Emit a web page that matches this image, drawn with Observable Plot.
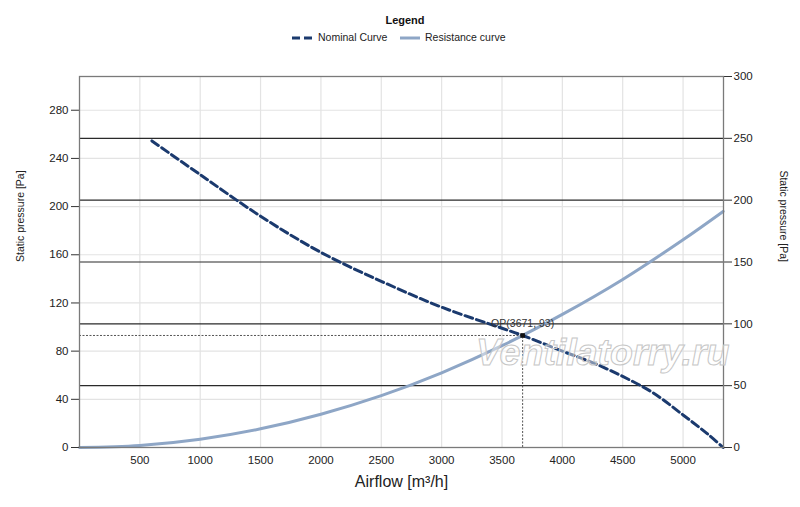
<!DOCTYPE html>
<html>
<head>
<meta charset="utf-8">
<script src="https://cdn.jsdelivr.net/npm/d3@7"></script>
<script src="https://cdn.jsdelivr.net/npm/@observablehq/plot@0.6"></script>
<style>
  html, body { margin: 0; padding: 0; background: #fff; }
  #wrap { position: relative; width: 800px; height: 507px; overflow: hidden; font-family: "Liberation Sans", Arial, sans-serif; }
  #legend { position: relative; width: 800px; height: 50px; }
  #legend .title { position: absolute; left: 0; width: 810px; top: 14px; text-align: center; font-weight: bold; font-size: 11px; color: #111; }
  #legend .item { position: absolute; top: 31px; font-size: 10.5px; color: #222; white-space: nowrap; }
  #legend svg { vertical-align: middle; margin-right: 5px; }
  #chart { position: absolute; left: 0; top: 50px; }
  #wm { position: absolute; left: 476px; top: 338px; font-size: 37.5px; line-height: 28px; font-style: italic; font-weight: bold;
        color: rgba(255,255,255,0.45); -webkit-text-stroke: 1px #c6c6c6; white-space: nowrap; pointer-events: none; }
</style>
</head>
<body>
<div id="wrap">
  <div id="legend">
    <div class="title">Legend</div>
    <div class="item" style="left:292px"><svg width="21" height="6"><line x1="0" y1="3" x2="21" y2="3" stroke="#1b3a6e" stroke-width="3" stroke-dasharray="8,4"/></svg>Nominal Curve</div>
    <div class="item" style="left:400px"><svg width="20" height="6"><line x1="0" y1="3" x2="20" y2="3" stroke="#8ea6c6" stroke-width="3"/></svg>Resistance curve</div>
  </div>
  <div id="chart"></div>
  <div id="wm">Ventilatorry.ru</div>
</div>
<script>
// ---- data ----
const xTicks = [500, 1000, 1500, 2000, 2500, 3000, 3500, 4000, 4500, 5000];
const leftTicks = [0, 40, 80, 120, 160, 200, 240, 280];
const rightTicks = [0, 50, 100, 150, 200, 250, 300];
const xDomain = [0, 5335];
const leftMax = 308;
const rightMax = 300;

const nominalFlow = [600, 1000, 1500, 2000, 2500, 3000, 3500, 3671, 4000, 4250, 4500, 4750, 5000, 5200, 5332];
const nominalPressure = [254.5, 226.5, 192, 162, 138, 116.5, 99, 93, 80, 70.5, 59, 45.5, 27, 11.5, 0];

const resistanceFlow = [0, 500, 1000, 1500, 2000, 2500, 3000, 3500, 4000, 4500, 5000, 5332];
const resistancePressure = [0, 1.7, 6.9, 15.5, 27.6, 43, 62, 84.5, 110.5, 139.5, 172.5, 196];

const opFlow = 3671;
const opPressure = 93;
const opLabel = "OP(3671, 93)";

const xLabel = "Airflow [m³/h]";
const yLabel = "Static pressure [Pa]";

// ---- build ----
const k = leftMax / rightMax;
const nominal = nominalFlow.map((x, i) => ({x, y: nominalPressure[i]}));
const resistance = resistanceFlow.map((x, i) => ({x, y: resistancePressure[i]}));
const op = [{x: opFlow, y: opPressure, label: opLabel}];

const chart = Plot.plot({
  width: 800,
  height: 457,
  marginTop: 26,
  marginBottom: 60,
  marginLeft: 79,
  marginRight: 77,
  x: {domain: xDomain},
  y: {domain: [0, leftMax]},
  style: {fontFamily: "'Liberation Sans', Arial, sans-serif", fontSize: "11.5px", color: "#222", background: "white", overflow: "visible"},
  marks: [
    Plot.ruleX(xTicks, {stroke: "#e3e3e3", strokeWidth: 1.2}),
    Plot.ruleY(leftTicks.filter(d => d > 0), {stroke: "#e3e3e3", strokeWidth: 1.2}),
    Plot.ruleY(rightTicks.filter(d => d > 0 && d < rightMax), {y: d => d * k, stroke: "#2a2a2a", strokeWidth: 1.1}),
    Plot.ruleY(op, {y: "y", x1: xDomain[0], x2: "x", stroke: "#555", strokeDasharray: "2,1.5", strokeWidth: 1}),
    Plot.ruleX(op, {x: "x", y1: 0, y2: "y", stroke: "#555", strokeDasharray: "2,1.5", strokeWidth: 1}),
    Plot.line(resistance, {x: "x", y: "y", stroke: "#8ea6c6", strokeWidth: 3, curve: "catmull-rom"}),
    Plot.line(nominal, {x: "x", y: "y", stroke: "#1b3a6e", strokeWidth: 3, strokeDasharray: "8,4", curve: "catmull-rom"}),
    Plot.dot(op, {x: "x", y: "y", symbol: "square", r: 2.6, fill: "#111"}),
    Plot.text(op, {x: "x", y: "y", text: "label", dy: -12, fontSize: 10.5, fill: "#333"}),
    Plot.axisX(xTicks, {tickSize: 0, tickPadding: 8, label: null, fontSize: 11.5, tickFormat: d => String(d)}),
    Plot.axisY(leftTicks, {anchor: "left", tickSize: 8, tickPadding: 3, label: null, stroke: "#333", tickFormat: d => String(d)}),
    Plot.axisY(rightTicks.map(v => v * k), {anchor: "right", tickSize: 8, tickPadding: 2, label: null, stroke: "#333", tickFormat: d => String(Math.round(d / k))}),
    Plot.frame({stroke: "#7a7a7a", strokeWidth: 1.3}),
    Plot.text([xLabel], {frameAnchor: "bottom", dy: 39, fontSize: 16, fill: "#222"}),
    Plot.text([yLabel], {frameAnchor: "left", dx: -59, rotate: -90, fontSize: 10.5, fill: "#222"}),
    Plot.text([yLabel], {frameAnchor: "right", dx: 60, rotate: 90, fontSize: 10.5, fill: "#222"})
  ]
});
document.getElementById("chart").appendChild(chart);
</script>
</body>
</html>
